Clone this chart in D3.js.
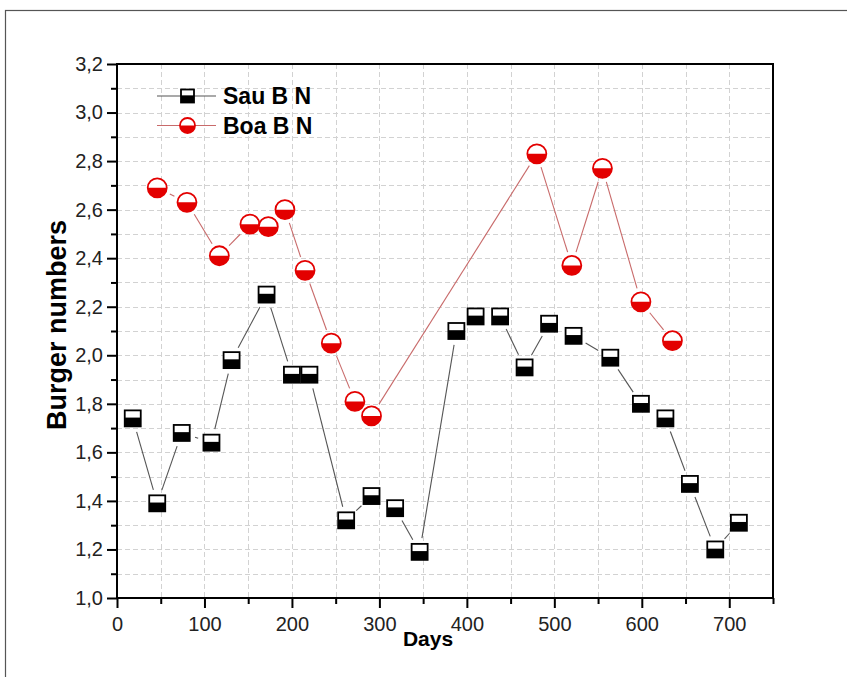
<!DOCTYPE html>
<html><head><meta charset="utf-8">
<script src="https://cdn.jsdelivr.net/npm/d3@7/dist/d3.min.js"></script>
<style>body{margin:0;background:#fff}svg{display:block}</style>
</head><body>
<svg id="chart" width="847" height="677"></svg>
<script>
// ---- data ----
const seriesNames = ["Sau B N", "Boa B N"];
const sauDays   = [18, 46, 74, 108, 131, 171, 200, 220, 262, 291, 318, 346, 388, 410, 438, 466, 494, 522, 564, 599, 627, 655, 684, 711];
const sauValues = [1.74, 1.39, 1.68, 1.64, 1.98, 2.25, 1.92, 1.92, 1.32, 1.42, 1.37, 1.19, 2.10, 2.16, 2.16, 1.95, 2.13, 2.08, 1.99, 1.80, 1.74, 1.47, 1.20, 1.31];
const boaDays   = [46, 80, 117, 152, 173, 192, 215, 245, 272, 291, 480, 520, 555, 599, 635];
const boaValues = [2.69, 2.63, 2.41, 2.54, 2.53, 2.60, 2.35, 2.05, 1.81, 1.75, 2.83, 2.37, 2.77, 2.22, 2.06];
const xTickValues = [0, 100, 200, 300, 400, 500, 600, 700];
const xMinorTicks = [50, 150, 250, 350, 450, 550, 650, 750];
const yTickValues = [1.0, 1.2, 1.4, 1.6, 1.8, 2.0, 2.2, 2.4, 2.6, 2.8, 3.0, 3.2];
const yMinorTicks = [1.1, 1.3, 1.5, 1.7, 1.9, 2.1, 2.3, 2.5, 2.7, 2.9, 3.1];
const xTitle = "Days";
const yTitle = "Burger numbers";

// ---- setup ----
const svg = d3.select("#chart");
const L = 117, R = 773, T = 64, B = 598;
const x = d3.scaleLinear().domain([0, 750]).range([L, R]);
const y = d3.scaleLinear().domain([1.0, 3.2]).range([B, T]);
const font = "'Liberation Sans', Arial, sans-serif";
const comma = v => d3.format(".1f")(v).replace(".", ",");

// outer frame
svg.append("rect").attr("x", 5.5).attr("y", 10.5).attr("width", 900).attr("height", 800)
  .attr("fill", "#fff").attr("stroke", "#555").attr("stroke-width", 1.2);

// grid
const grid = svg.append("g").attr("stroke", "#d2d2d2").attr("stroke-width", 1).attr("stroke-dasharray", "5,3");
const gx = xTickValues.concat(xMinorTicks).filter(d => d > 0 && d < 750);
grid.selectAll("line.v").data(gx).join("line")
  .attr("x1", d => Math.round(x(d)) + 0.5).attr("x2", d => Math.round(x(d)) + 0.5)
  .attr("y1", T).attr("y2", B);
const gy = yTickValues.concat(yMinorTicks).filter(d => d > 1.0 && d < 3.2);
grid.selectAll("line.h").data(gy).join("line")
  .attr("y1", d => Math.round(y(d)) + 0.5).attr("y2", d => Math.round(y(d)) + 0.5)
  .attr("x1", L).attr("x2", R);

// axes
function styleAxis(g) {
  g.select(".domain").remove();
  g.selectAll(".tick line").attr("stroke", "#000").attr("stroke-width", 2);
  g.selectAll(".tick text").attr("font-family", font).attr("font-size", 20).attr("fill", "#222");
}
svg.append("g").attr("transform", `translate(0,${B})`)
  .call(d3.axisBottom(x).tickValues(xTickValues).tickSize(10).tickPadding(9).tickFormat(d3.format("d")))
  .call(styleAxis);
svg.append("g").attr("transform", `translate(0,${B})`)
  .call(d3.axisBottom(x).tickValues(xMinorTicks).tickSize(6).tickFormat(""))
  .call(styleAxis);
svg.append("g").attr("transform", `translate(${L},0)`)
  .call(d3.axisLeft(y).tickValues(yTickValues).tickSize(10).tickPadding(4).tickFormat(comma))
  .call(styleAxis);
svg.append("g").attr("transform", `translate(${L},0)`)
  .call(d3.axisLeft(y).tickValues(yMinorTicks).tickSize(6).tickFormat(""))
  .call(styleAxis);

// plot frame
svg.append("rect").attr("x", L).attr("y", T).attr("width", R - L).attr("height", B - T)
  .attr("fill", "none").attr("stroke", "#000").attr("stroke-width", 2);

// lines with gaps near markers
function gapLines(days, vals, color, gap) {
  const pts = days.map((d, i) => [x(d), y(vals[i])]);
  const segs = [];
  for (let i = 0; i < pts.length - 1; i++) {
    const [x1, y1] = pts[i], [x2, y2] = pts[i + 1];
    const dx = x2 - x1, dy = y2 - y1, len = Math.hypot(dx, dy);
    if (len > 2 * gap + 1) {
      const ux = dx / len, uy = dy / len;
      segs.push([x1 + ux * gap, y1 + uy * gap, x2 - ux * gap, y2 - uy * gap]);
    }
  }
  svg.append("g").selectAll("line").data(segs).join("line")
    .attr("x1", d => d[0]).attr("y1", d => d[1]).attr("x2", d => d[2]).attr("y2", d => d[3])
    .attr("stroke", color).attr("stroke-width", 1.1);
}
gapLines(sauDays, sauValues, "#555", 14);
gapLines(boaDays, boaValues, "#c86a6a", 14);

// markers
function squareMarker(g, s) {
  const h = s / 2;
  g.append("rect").attr("x", -h).attr("y", -h).attr("width", s).attr("height", s).attr("fill", "#fff");
  g.append("rect").attr("x", -h).attr("y", -s * 0.05).attr("width", s).attr("height", h + s * 0.05).attr("fill", "#000");
  g.append("rect").attr("x", -h).attr("y", -h).attr("width", s).attr("height", s)
    .attr("fill", "none").attr("stroke", "#000").attr("stroke-width", 1.8);
}
function circleMarker(g, r) {
  g.append("circle").attr("r", r).attr("fill", "#fff");
  g.append("path").attr("d", `M${-r},0 A${r},${r} 0 0 0 ${r},0 Z`).attr("fill", "#e30000");
  g.append("circle").attr("r", r).attr("fill", "none").attr("stroke", "#e30000").attr("stroke-width", 1.8);
}
svg.append("g").selectAll("g").data(sauDays.map((d, i) => [d, sauValues[i]])).join("g")
  .attr("transform", d => `translate(${x(d[0])},${y(d[1])})`)
  .each(function () { squareMarker(d3.select(this), 16); });
svg.append("g").selectAll("g").data(boaDays.map((d, i) => [d, boaValues[i]])).join("g")
  .attr("transform", d => `translate(${x(d[0])},${y(d[1])})`)
  .each(function () { circleMarker(d3.select(this), 9.5); });

// legend
const leg = svg.append("g");
const legRows = [
  { name: seriesNames[0], y: 96, color: "#555", kind: "sq" },
  { name: seriesNames[1], y: 125.5, color: "#c86a6a", kind: "ci" }
];
legRows.forEach(r => {
  leg.append("line").attr("x1", 157).attr("x2", 216).attr("y1", r.y).attr("y2", r.y)
    .attr("stroke", r.color).attr("stroke-width", 1.1);
  const g = leg.append("g").attr("transform", `translate(187.5,${r.y})`);
  if (r.kind === "sq") squareMarker(g, 13); else circleMarker(g, 7.5);
  leg.append("text").attr("x", 223).attr("y", r.y + 8).text(r.name)
    .attr("font-family", font).attr("font-weight", "bold").attr("font-size", 23).attr("fill", "#000");
});

// axis titles
svg.append("text").attr("x", 428).attr("y", 646).attr("text-anchor", "middle").text(xTitle)
  .attr("font-family", font).attr("font-weight", "bold").attr("font-size", 21).attr("fill", "#000");
svg.append("text").attr("transform", "translate(66,325) rotate(-90)").attr("text-anchor", "middle").text(yTitle)
  .attr("font-family", font).attr("font-weight", "bold").attr("font-size", 27).attr("fill", "#000");
</script>
</body></html>
